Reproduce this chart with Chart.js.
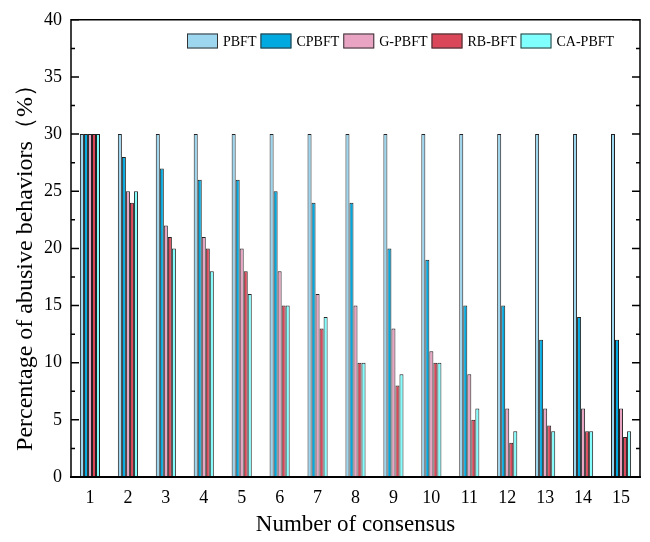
<!DOCTYPE html>
<html>
<head>
<meta charset="utf-8">
<title>Abusive behaviors by consensus round</title>
<script src="https://cdn.jsdelivr.net/npm/chart.js@4.4.0/dist/chart.umd.min.js"></script>
<style>
  html, body { margin: 0; padding: 0; background: #fff; }
  #wrap { width: 650px; height: 542px; }
</style>
</head>
<body>
<div id="wrap"><canvas id="chart" width="650" height="542"></canvas></div>
<script>
const rounds = ["1", "2", "3", "4", "5", "6", "7", "8", "9", "10", "11", "12", "13", "14", "15"];

const pbft   = [30, 30, 30, 30, 30, 30, 30, 30, 30, 30, 30, 30, 30, 30, 30];
const cpbft  = [30, 28, 27, 26, 26, 25, 24, 24, 20, 19, 15, 15, 12, 14, 12];
const gpbft  = [30, 25, 22, 21, 20, 18, 16, 15, 13, 11, 9, 6, 6, 6, 6];
const rbbft  = [30, 24, 21, 20, 18, 15, 13, 10, 8, 10, 5, 3, 4.5, 4, 3.5];
const capbft = [30, 25, 20, 18, 16, 15, 14, 10, 9, 10, 6, 4, 4, 4, 4];

const yTicks = [0, 5, 10, 15, 20, 25, 30, 35, 40];
const yTitle = "Percentage of abusive behaviors（%）";

const serif = "'Liberation Serif', 'Times New Roman', serif";

// frame around the plot plus inward tick marks on both sides
const framePlugin = {
  id: "frame",
  afterDatasetsDraw(chart) {
    const { ctx, chartArea: a, scales } = chart;
    const y = scales.y;
    ctx.save();
    ctx.strokeStyle = "#000";
    ctx.lineWidth = 1.5;
    ctx.beginPath();
    ctx.moveTo(a.left, a.bottom);
    ctx.lineTo(a.left, a.top);
    ctx.lineTo(a.right, a.top);
    ctx.lineTo(a.right, a.bottom);
    ctx.stroke();
    ctx.lineWidth = 2.2;
    ctx.beginPath();
    ctx.moveTo(a.left - 1, a.bottom);
    ctx.lineTo(a.right + 1, a.bottom);
    ctx.stroke();

    ctx.lineWidth = 1.5;
    for (let v = 0; v <= 40; v += 2.5) {
      const py = y.getPixelForValue(v);
      const len = v % 5 === 0 ? 8 : 4;
      ctx.beginPath();
      ctx.moveTo(a.left, py);
      ctx.lineTo(a.left + len, py);
      ctx.moveTo(a.right, py);
      ctx.lineTo(a.right - len, py);
      ctx.stroke();
    }

    // vertical axis title, sits a little below the plot's middle
    ctx.fillStyle = "#000";
    ctx.font = "24px " + serif;
    ctx.textAlign = "center";
    ctx.textBaseline = "middle";
    ctx.translate(26, 262);
    ctx.rotate(-Math.PI / 2);
    ctx.fillText(yTitle, 0, 0);
    ctx.restore();
  }
};

// legend row drawn inside the plot, near the top
const legendPlugin = {
  id: "insideLegend",
  afterDraw(chart) {
    const { ctx } = chart;
    ctx.save();
    ctx.font = "14px " + serif;
    ctx.textBaseline = "middle";
    let x = 187;
    const cy = 41;
    chart.data.datasets.forEach(ds => {
      ctx.fillStyle = ds.backgroundColor;
      ctx.fillRect(x, cy - 7.5, 31, 15);
      ctx.strokeStyle = "#333";
      ctx.lineWidth = 1;
      ctx.strokeRect(x + 0.5, cy - 7, 30, 14);
      x += 31 + 5;
      ctx.fillStyle = "#000";
      ctx.fillText(ds.label, x, cy + 1);
      x += ctx.measureText(ds.label).width + 4;
    });
    ctx.restore();
  }
};

const mk = (label, data, color) => ({
  label,
  data,
  backgroundColor: color,
  borderColor: "#222",
  borderWidth: 1,
  borderSkipped: "bottom",
  categoryPercentage: 0.53,
  barPercentage: 1.0
});

new Chart(document.getElementById("chart").getContext("2d"), {
  type: "bar",
  data: {
    labels: rounds,
    datasets: [
      mk("PBFT", pbft, "#9dd6ef"),
      mk("CPBFT", cpbft, "#00a9df"),
      mk("G-PBFT", gpbft, "#e9a3c3"),
      mk("RB-BFT", rbbft, "#da4758"),
      mk("CA-PBFT", capbft, "#80ffff")
    ]
  },
  options: {
    responsive: false,
    animation: false,
    layout: { padding: { left: 0, right: 10, top: 18, bottom: 0 } },
    plugins: {
      legend: { display: false },
      tooltip: { enabled: false }
    },
    scales: {
      x: {
        offset: true,
        grid: { display: false, drawTicks: false },
        border: { display: false },
        ticks: { color: "#000", font: { family: serif, size: 18 }, padding: 10 },
        title: {
          display: true,
          text: "Number of consensus",
          color: "#000",
          font: { family: serif, size: 23 },
          padding: { top: 0, bottom: 3 }
        },
        afterFit(s) { s.height = 65; }
      },
      y: {
        min: 0,
        max: 40,
        afterBuildTicks(s) { s.ticks = yTicks.map(v => ({ value: v })); },
        grid: { display: false, drawTicks: false },
        border: { display: false },
        ticks: { color: "#000", font: { family: serif, size: 18 }, padding: 9 },
        afterFit(s) { s.width = 71; }
      }
    }
  },
  plugins: [framePlugin, legendPlugin]
});
</script>
</body>
</html>
